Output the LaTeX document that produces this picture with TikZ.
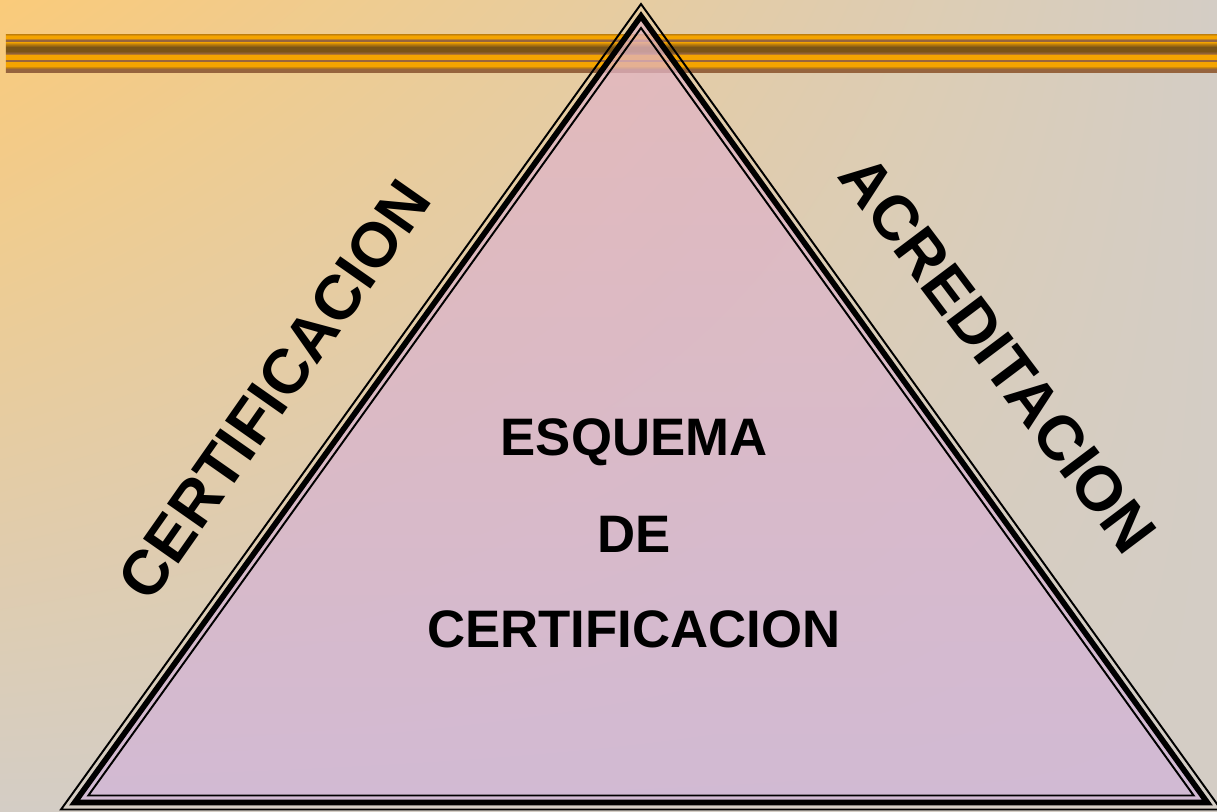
\documentclass[tikz,border=0pt]{standalone}
\usepackage{fontspec}
\setmainfont{Liberation Sans}
\usetikzlibrary{calc,shadings}
\definecolor{bgWarm}{RGB}{250,203,122}
\definecolor{bgGrey}{RGB}{212,205,197}
\definecolor{fillTop}{RGB}{226,181,195}
\definecolor{fillBot}{RGB}{209,180,217}
\definecolor{barDark}{RGB}{122,84,22}
\definecolor{barOrange}{RGB}{244,164,0}
\definecolor{barBrown}{RGB}{150,100,62}
\definecolor{barGold}{RGB}{190,126,12}
\pgfdeclareverticalshading{barshade}{100bp}{color(0bp)=(barBrown); color(25bp)=(barBrown);
 color(28.9bp)=(barBrown); color(30.9bp)=(barGold); color(32.9bp)=(barOrange);
 color(38.2bp)=(barOrange); color(39.5bp)=(barBrown); color(40.8bp)=(barBrown);
 color(42.1bp)=(barOrange); color(47.4bp)=(barOrange); color(49.3bp)=(barBrown);
 color(52.6bp)=(barDark); color(57.9bp)=(barDark); color(61.8bp)=(barGold);
 color(64.5bp)=(barOrange); color(65.8bp)=(barBrown); color(67.8bp)=(barBrown);
 color(69.1bp)=(barOrange); color(72.4bp)=(barOrange); color(75bp)=(barGold);
 color(100bp)=(barGold)}
\tikzset{rim/.style={draw=black,line width=.55pt},
 rimthick/.style={draw=black,line width=1.6pt},
 sideword/.style={font=\bfseries\fontsize{17.9}{21}\selectfont,inner sep=0pt},
 midword/.style={font=\bfseries\fontsize{15}{18}\selectfont,inner sep=0pt,anchor=base},
 every picture/.style={line join=miter}}

\begin{document}
\begin{tikzpicture}[x=0.01cm,y=-0.01cm]
\useasboundingbox (0,0) rectangle (1217,811);
\clip (0,0) rectangle (1217,811);
\shade[upper left=bgWarm,upper right=bgGrey,lower left=bgGrey,lower right=bgGrey] (0,0) rectangle (1217,811);
% gold bar
\shade[shading=barshade] (6,34) rectangle (1217,72);
% pyramid
\coordinate (apex) at (641,4);
\coordinate (left) at (61,809.5);
\coordinate (right) at (1221,809.5);
\coordinate (mid) at (641,512.5);
\coordinate (tapex) at ($(mid)!0.9764!(apex)$);
\coordinate (tleft) at ($(mid)!0.9764!(left)$);
\coordinate (tright) at ($(mid)!0.9764!(right)$);
\coordinate (iapex) at ($(mid)!0.9529!(apex)$);
\coordinate (ileft) at ($(mid)!0.9529!(left)$);
\coordinate (iright) at ($(mid)!0.9529!(right)$);
\shade[top color=fillTop,bottom color=fillBot,fill opacity=.75] (tapex) -- (tleft) -- (tright) -- cycle;
\draw[rim] (apex) -- (left) -- (right) -- cycle;
\draw[rimthick] (tapex) -- (tleft) -- (tright) -- cycle;
\draw[rim] (iapex) -- (ileft) -- (iright) -- cycle;
% labels
\node[sideword,rotate=55] (cert) at (274,390) {CERTIFICACION};
\node[sideword,rotate=-53] (acred) at (998,354) {ACREDITACION};
\node[midword] (esquema) at (634,455) {ESQUEMA};
\node[midword] (de) at (634,552) {DE};
\node[midword] (certmid) at (634,647) {CERTIFICACION};
\end{tikzpicture}
\end{document}
